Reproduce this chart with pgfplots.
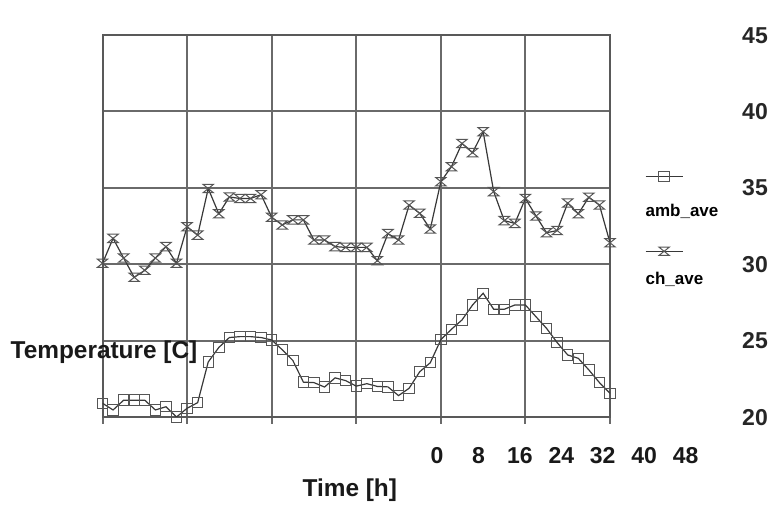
\documentclass[border=0pt]{standalone}
\usepackage{fontspec}
\setmainfont{Liberation Sans}
\usepackage{pgfplots}
\usepackage{pgfplotstable}
\pgfplotsset{compat=1.18}

\definecolor{gridc}{HTML}{6A6A6A}
\definecolor{linec}{HTML}{383838}
\definecolor{markc}{HTML}{555555}

% hourglass marker used by ch_ave
\pgfdeclareplotmark{hourglass}{%
  \pgfpathmoveto{\pgfqpoint{-\pgfplotmarksize}{0.8\pgfplotmarksize}}%
  \pgfpathlineto{\pgfqpoint{\pgfplotmarksize}{0.8\pgfplotmarksize}}%
  \pgfpathlineto{\pgfqpoint{-\pgfplotmarksize}{-0.8\pgfplotmarksize}}%
  \pgfpathlineto{\pgfqpoint{\pgfplotmarksize}{-0.8\pgfplotmarksize}}%
  \pgfpathclose
  \pgfusepathqstroke}

\newcommand\labfont{\fontsize{12.2}{14}\selectfont\bfseries}
\newcommand\tickfont{\fontsize{11.5}{13}\selectfont\bfseries}
\newcommand\legfont{\fontsize{8.5}{10}\selectfont\bfseries}

% legend sample: line with the mark, its name set below it
\pgfplotsset{
  stacked legend/.style 2 args={
    legend image code/.code={
      \draw[##1, mark repeat=2, mark phase=2] plot coordinates {(0pt,0pt) (9.25pt,0pt) (18.5pt,0pt)};
      \node[anchor=west, inner sep=0pt, text=black, font=\legfont] at (0pt,-#2) {#1};
      \path (0pt,3pt) (0pt,-27pt);
    }},
}

\pgfplotstableread{
h   amb    ch
0   20.90  30.06
1   20.46  31.69
2   21.10  30.40
3   21.10  29.14
4   21.10  29.60
5   20.46  30.40
6   20.67  31.15
7   20.00  30.06
8   20.57  32.45
9   20.94  31.90
10  23.60  34.95
11  24.55  33.30
12  25.20  34.40
13  25.26  34.30
14  25.26  34.30
15  25.20  34.55
16  25.04  33.07
17  24.40  32.57
18  23.70  32.90
19  22.28  32.90
20  22.25  31.58
21  21.96  31.58
22  22.56  31.15
23  22.38  31.10
24  22.02  31.10
25  22.18  31.10
26  22.00  30.23
27  21.97  32.00
28  21.40  31.58
29  21.88  33.87
30  22.96  33.33
31  23.55  32.30
32  25.06  35.40
33  25.74  36.38
34  26.35  37.90
35  27.33  37.30
36  28.10  38.67
37  27.05  34.75
38  27.05  32.85
39  27.33  32.67
40  27.33  34.30
41  26.56  33.15
42  25.80  32.06
43  24.87  32.20
44  24.06  34.00
45  23.84  33.30
46  23.08  34.38
47  22.25  33.87
48  21.55  31.40
}\temps

\begin{document}
\begin{tikzpicture}
\useasboundingbox (0,0) rectangle (389.5pt,253pt);

% main plot area
\begin{axis}[
  at={(51.25pt,44.5pt)}, anchor=south west,
  width=253.75pt, height=191pt, scale only axis,
  xmin=0, xmax=48, ymin=20, ymax=45,
  xtick={0,8,...,48}, ytick={20,25,...,45},
  xticklabels={}, yticklabels={},
  grid=major,
  major grid style={draw=gridc, line width=1pt},
  axis line style={draw=black!65, line width=1pt},
  tick align=outside, major tick length=3.5pt,
  xtick style={draw=gridc, line width=1pt},
  ytick style={draw=none},
  xtick pos=bottom, ytick pos=left,
  legend style={at={(1.069,0.6466)}, anchor=north west, draw=none, fill=none,
    inner sep=0pt, outer sep=0pt, row sep=6.75pt,
    nodes={inner sep=0pt, outer sep=0pt}},
]
\addplot[color=linec, line width=0.6pt, mark=square, mark size=2.6pt,
  mark options={draw=markc, line width=0.5pt},
  stacked legend={amb\_ave}{17.5pt}] table[x=h, y=amb] {\temps};
\addlegendentry{}
\addplot[color=linec, line width=0.6pt, mark=hourglass, mark size=2.6pt,
  mark options={draw=markc, line width=0.5pt},
  stacked legend={ch\_ave}{14.5pt}] table[x=h, y=ch] {\temps};
\addlegendentry{}
\end{axis}

% x tick labels, set apart to the lower right as in the original
\begin{axis}[
  at={(218.5pt,25.5pt)}, anchor=south west,
  width=124.3pt, height=5pt, scale only axis,
  xmin=0, xmax=48, ymin=0, ymax=1,
  xtick={0,8,...,48}, ytick=\empty,
  axis line style={draw=none}, tick style={draw=none},
  xticklabel style={anchor=center, font=\tickfont, text=black!90,
    text height=8.2pt, text depth=0pt},
  /pgf/number format/assume math mode=true,
]
\addplot[draw=none] coordinates {(0,0)};
\end{axis}

% y tick labels, far to the right
\begin{axis}[
  at={(377.5pt,44.5pt)}, anchor=south west,
  width=1pt, height=191pt, scale only axis,
  xmin=0, xmax=1, ymin=20, ymax=45,
  ytick={20,25,...,45}, xtick=\empty,
  axis line style={draw=none}, tick style={draw=none},
  yticklabel style={anchor=center, font=\tickfont, text=black!85,
    text height=8.2pt, text depth=0pt},
  /pgf/number format/assume math mode=true,
]
\addplot[draw=none] coordinates {(0,20)};
\end{axis}

\node[font=\labfont, text=black!90] at (52pt,77pt) {Temperature [C]};
\node[font=\labfont, text=black!90] at (174.9pt,8pt) {Time [h]};
\end{tikzpicture}
\end{document}
